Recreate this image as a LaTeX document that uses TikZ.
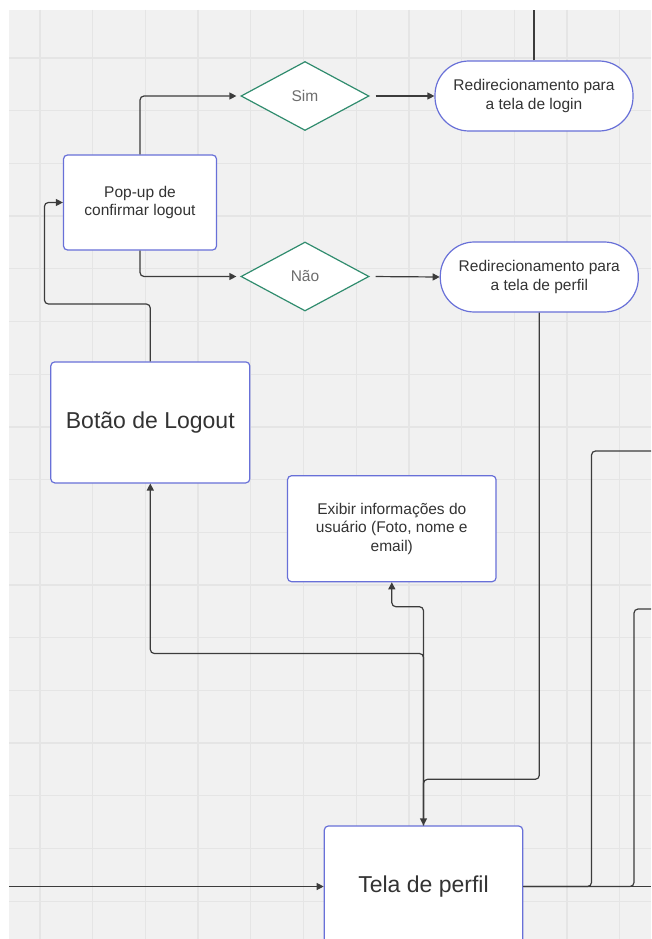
\documentclass[tikz,border=0pt]{standalone}
\usepackage{fontspec}
\setmainfont{Liberation Sans}
\usetikzlibrary{shapes.geometric,arrows.meta}
\definecolor{bgc}{RGB}{241,241,241}
\definecolor{gridc}{RGB}{229,229,229}
\definecolor{boxc}{RGB}{104,112,216}
\definecolor{dia}{RGB}{48,140,110}
\definecolor{linec}{RGB}{60,60,60}
\definecolor{txtc}{RGB}{51,51,51}
\definecolor{graytxt}{RGB}{110,110,110}
\tikzset{
  box/.style={draw=boxc, line width=1.2pt, fill=white, rounded corners=4pt, inner sep=2pt, align=center, text=txtc},
  stadium/.style={draw=boxc, line width=1.2pt, fill=white, rounded corners=34pt, inner sep=2pt, align=center, text=txtc, minimum width=198pt, minimum height=70pt},
  decision/.style={diamond, draw=dia, line width=1.2pt, fill=white, aspect=1.855, minimum width=128pt, minimum height=69pt, inner sep=0pt, text=graytxt},
  small/.style={font=\fontsize{15.5}{18.5}\selectfont},
  big/.style={font=\fontsize{23}{27}\selectfont},
  conn/.style={draw=linec, line width=1.2pt, rounded corners=4pt},
  arr/.style={conn, -{Triangle[length=7pt,width=7pt]}},
}
\begin{document}
\begin{tikzpicture}[x=1pt,y=-1pt]
\useasboundingbox (0,0) rectangle (651,939);
\clip (0,0) rectangle (651,939);
\fill[white] (0,0) rectangle (651,939);
\fill[bgc] (9,10) rectangle (651,939);
\begin{scope}
\clip (9,10) rectangle (651,939);
\foreach \i in {0,...,11} {\draw[gridc, line width=1.3pt] ({40+52.7*\i},10) -- ({40+52.7*\i},939);}
\foreach \j in {1,...,17} {\draw[gridc, line width=1.3pt] (9,{5.3+52.7*\j}) -- (651,{5.3+52.7*\j});}
\end{scope}

% nodes
\node[box, small, minimum width=153pt, minimum height=95pt] (popup) at (140,202.5) {Pop-up de\\confirmar logout};
\node[decision, small] (sim) at (305,96) {Sim};
\node[decision, small] (nao) at (305,276.5) {Não};
\node[stadium, small] (login) at (534,96) {Redirecionamento para\\a tela de login};
\node[stadium, small] (predir) at (539.3,277) {Redirecionamento para\\a tela de perfil};
\node[box, big, minimum width=199pt, minimum height=121pt] (botao) at (150.3,422.4) {Botão de Logout};
\node[box, small, minimum width=208.5pt, minimum height=106pt] (exibir) at (391.8,528.7) {Exibir informações do\\usuário (Foto, nome e\\email)};
\node[box, big, minimum width=198.4pt, minimum height=121pt] (tela) at (423.5,886.5) {Tela de perfil};

% free ends
\coordinate (topend) at (534,10);
\coordinate (leftin) at (9,886.5);
\coordinate (rightout) at (651,886.5);
\coordinate (rightA) at (651,451);
\coordinate (rightB) at (651,609);

% connectors
\draw[arr, shorten >=4pt] (popup.north) |- (sim.west);
\draw[arr, shorten >=4pt] (popup.south) |- (nao.west);
\draw[arr, shorten <=6pt] (sim.east) -- (login.west);
\draw[arr, shorten <=6pt] (nao.east) -- (predir.west);
\draw[arr] (botao.north) -- ++(0,-57.3) -| (44.4,202.5) -- (popup.west);
\draw[arr] (tela.north) -- (423.5,606.7) -| (exibir.south);
\draw[arr] (tela.north) -- (423.5,653.5) -| (botao.south);
\draw[arr] (predir.south) -- (539.3,779.3) -| (tela.north);
\draw[arr] (leftin) -- (tela.west);
\draw[conn] (login.north) -- (topend);
\draw[conn] (tela.east) -- (rightout);
\draw[conn] (tela.east) -- (591.5,886.5) -- (591.5,451) -- (rightA);
\draw[conn] (tela.east) -- (634,886.5) -- (634,609) -- (rightB);
\end{tikzpicture}
\end{document}
